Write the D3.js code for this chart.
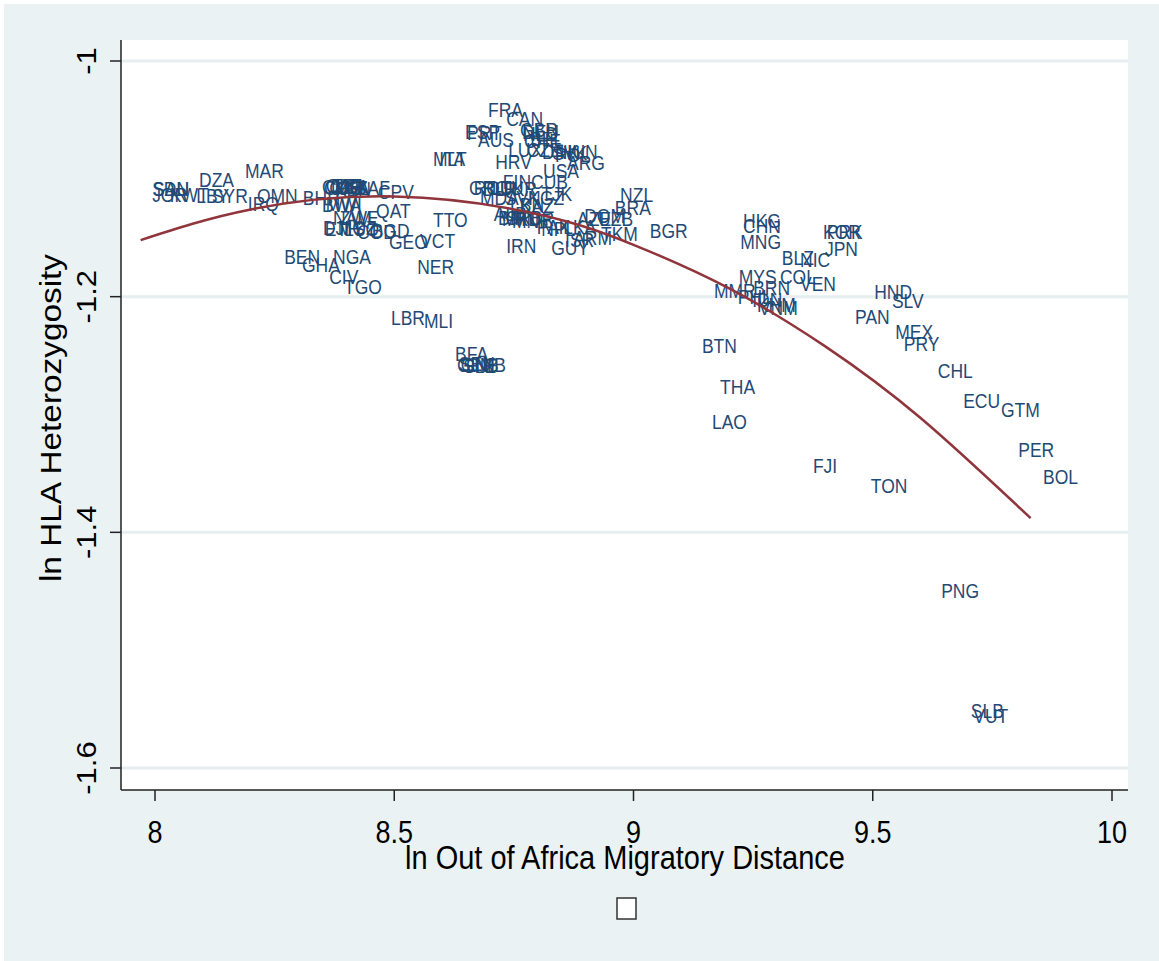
<!DOCTYPE html>
<html>
<head>
<meta charset="utf-8">
<script src="https://cdn.jsdelivr.net/npm/d3@7"></script>
<style>
body{margin:0;background:#fff;}
text{font-family:"Liberation Sans",Arial,sans-serif;}
</style>
</head>
<body>
<svg width="1159" height="961"></svg>
<script>
// country codes and where their labels sit (ln distance, ln HLA heterozygosity)
const codes=['SDN','SAU','JOR','KWT','LBY','SYR','DZA','MAR','OMN','IRQ','BHR',
'CMR','COG','CAF','GAB','UGA','KEN','TZA','ZAF','CPV','BWA','MWI','NAM','ZWE','QAT',
'DJI','ETH','MOZ','LSO','COD','BGD','GEO','VCT','TTO','NER','BEN','GHA','NGA','CIV','TGO',
'LBR','MLI','BFA','GIN','GNB','SEN','SLE','GMB',
'MLT','ITA','FRA','CAN','ESP','PRT','AUS','GBR','DEU','NLD','CHE','BEL','LUX','CZE','DNK',
'SVK','HUN','POL','HRV','USA','ARG','FIN','CUB','GRC','ROU','BLR','LTU','UKR','MDA','SVN',
'KGZ','TJK','LBN','KAZ','ALB','BIH','MKD','SRB','MNE','TUR','PAK','NPL','LKA','AZE','DOM',
'UZB','NZL','BRA','BGR','ARM','TKM','GUY','IRN','ISR',
'HKG','CHN','MNG','BLZ','NIC','JPN','KOR','PRK','MYS','COL','VEN','MMR','BRN','PHL','IDN',
'KHM','VNM','BTN','THA','LAO','FJI','TON','HND','SLV','PAN','MEX','PRY','CHL','ECU','GTM',
'PER','BOL','PNG','SLB','VUT'];
const dist=[7.994,7.996,7.994,8.031,8.086,8.119,8.092,8.188,8.213,8.194,8.309,
8.349,8.353,8.357,8.364,8.368,8.376,8.372,8.422,8.466,8.349,8.357,8.372,8.386,8.462,
8.351,8.355,8.382,8.395,8.422,8.453,8.489,8.554,8.581,8.548,8.270,8.307,8.372,8.364,8.395,
8.493,8.562,8.627,8.631,8.639,8.635,8.644,8.650,
8.581,8.594,8.696,8.734,8.648,8.652,8.675,8.763,8.767,8.769,8.771,8.784,8.738,8.777,8.809,
8.830,8.846,8.836,8.711,8.811,8.861,8.727,8.786,8.656,8.666,8.685,8.704,8.721,8.679,8.731,
8.780,8.807,8.742,8.763,8.708,8.717,8.725,8.734,8.746,8.759,8.798,8.807,8.853,8.882,8.897,
8.926,8.972,8.961,9.034,8.874,8.932,8.828,8.734,8.857,
9.229,9.229,9.223,9.310,9.348,9.400,9.396,9.404,9.220,9.306,9.348,9.168,9.250,9.218,9.248,
9.258,9.262,9.143,9.181,9.164,9.375,9.496,9.503,9.540,9.463,9.547,9.565,9.636,9.689,9.768,
9.804,9.856,9.643,9.705,9.710];
const het=[-1.109,-1.109,-1.114,-1.114,-1.115,-1.115,-1.101,-1.093,-1.115,-1.121,-1.116,
-1.107,-1.108,-1.106,-1.108,-1.107,-1.109,-1.106,-1.108,-1.111,-1.122,-1.121,-1.133,-1.133,-1.127,
-1.142,-1.143,-1.142,-1.143,-1.145,-1.144,-1.154,-1.153,-1.135,-1.175,-1.166,-1.173,-1.166,-1.183,-1.192,
-1.218,-1.221,-1.249,-1.258,-1.258,-1.257,-1.259,-1.258,
-1.083,-1.083,-1.042,-1.049,-1.060,-1.061,-1.067,-1.059,-1.060,-1.062,-1.068,-1.066,-1.076,-1.076,-1.077,
-1.078,-1.077,-1.080,-1.086,-1.093,-1.087,-1.103,-1.103,-1.108,-1.108,-1.109,-1.108,-1.109,-1.116,-1.116,
-1.116,-1.113,-1.122,-1.123,-1.130,-1.133,-1.134,-1.133,-1.136,-1.134,-1.141,-1.143,-1.141,-1.134,-1.132,
-1.134,-1.114,-1.125,-1.144,-1.150,-1.147,-1.159,-1.157,-1.152,
-1.136,-1.140,-1.154,-1.167,-1.169,-1.160,-1.145,-1.145,-1.183,-1.183,-1.189,-1.195,-1.193,-1.200,-1.203,
-1.207,-1.210,-1.242,-1.277,-1.306,-1.344,-1.361,-1.196,-1.204,-1.217,-1.230,-1.240,-1.263,-1.289,-1.296,
-1.330,-1.353,-1.450,-1.552,-1.556];

// quadratic fit line
const fitX=[7.97,8.2,8.5,8.8,9.0,9.2,9.4,9.6,9.83];
const fitY=[-1.152,-1.126,-1.115,-1.130,-1.156,-1.193,-1.242,-1.303,-1.388];

const xTicks=[8,8.5,9,9.5,10];
const yTicks=[-1,-1.2,-1.4,-1.6];

const svg=d3.select('svg');
const width=+svg.attr('width');
const height=+svg.attr('height');
const plot={left:121,right:1128,top:40,bottom:790};
const stretch=1.15; // text in the picture is drawn a bit taller than wide

const x=d3.scaleLinear().domain([8,10]).range([155,1112]);
const y=d3.scaleLinear().domain([-1.6,-1]).range([768,61]);

// graph region + plot region
svg.append('rect').attr('x',4).attr('y',4).attr('width',width-4).attr('height',height-4).attr('fill','#eaf2f3');
svg.append('rect').attr('x',plot.left).attr('y',plot.top)
   .attr('width',plot.right-plot.left).attr('height',plot.bottom-plot.top).attr('fill','#fff');

// gridlines
svg.append('g').selectAll('line').data(yTicks).enter().append('line')
   .attr('x1',plot.left).attr('x2',plot.right)
   .attr('y1',d=>y(d)).attr('y2',d=>y(d))
   .attr('stroke','#e6eef0').attr('stroke-width',3);

// country labels (they overlap in the original too)
const pts=codes.map((c,i)=>({code:c,x:dist[i],y:het[i]}));
svg.append('g').selectAll('text').data(pts).enter().append('text')
   .attr('transform',d=>`translate(${x(d.x)},${y(d.y)}) scale(1,${stretch})`)
   .attr('dominant-baseline','central')
   .attr('font-size',17.5)
   .attr('fill','#1f4a75')
   .text(d=>d.code);

// fitted curve
const line=d3.line().x((d,i)=>x(fitX[i])).y(d=>y(d)).curve(d3.curveNatural);
svg.append('path').datum(fitY).attr('d',line)
   .attr('fill','none').attr('stroke','#90353b').attr('stroke-width',2.5);

// axes
svg.append('line').attr('x1',plot.left).attr('x2',plot.left).attr('y1',plot.top).attr('y2',plot.bottom)
   .attr('stroke','#222').attr('stroke-width',1.5);
svg.append('line').attr('x1',plot.left).attr('x2',plot.right).attr('y1',plot.bottom).attr('y2',plot.bottom)
   .attr('stroke','#222').attr('stroke-width',1.5);

const xt=svg.append('g').selectAll('g').data(xTicks).enter().append('g');
xt.append('line').attr('x1',d=>x(d)).attr('x2',d=>x(d)).attr('y1',plot.bottom).attr('y2',plot.bottom+11)
   .attr('stroke','#222').attr('stroke-width',1.5);
xt.append('text')
   .attr('transform',d=>`translate(${x(d)},843) scale(1,${stretch})`)
   .attr('text-anchor','middle').attr('font-size',27).attr('fill','#000')
   .text(d=>d);

const yt=svg.append('g').selectAll('g').data(yTicks).enter().append('g');
yt.append('line').attr('x1',plot.left-11).attr('x2',plot.left).attr('y1',d=>y(d)).attr('y2',d=>y(d))
   .attr('stroke','#222').attr('stroke-width',1.5);
yt.append('text')
   .attr('transform',d=>`translate(96,${y(d)}) scale(1,${stretch}) rotate(-90)`)
   .attr('text-anchor','middle').attr('font-size',27).attr('fill','#000')
   .text(d=>d);

// axis titles
svg.append('text')
   .attr('transform',`translate(625,869) scale(1,${stretch})`)
   .attr('text-anchor','middle').attr('font-size',29).attr('fill','#000')
   .text('ln Out of Africa Migratory Distance');
svg.append('text')
   .attr('transform',`translate(61,418) scale(1,${stretch}) rotate(-90)`)
   .attr('text-anchor','middle').attr('font-size',29).attr('fill','#000')
   .text('ln HLA Heterozygosity');

// note (renders as an empty box in the original)
svg.append('rect').attr('x',617).attr('y',898).attr('width',19).attr('height',21)
   .attr('fill','#fff').attr('stroke','#333').attr('stroke-width',1.5);
</script>
</body>
</html>
